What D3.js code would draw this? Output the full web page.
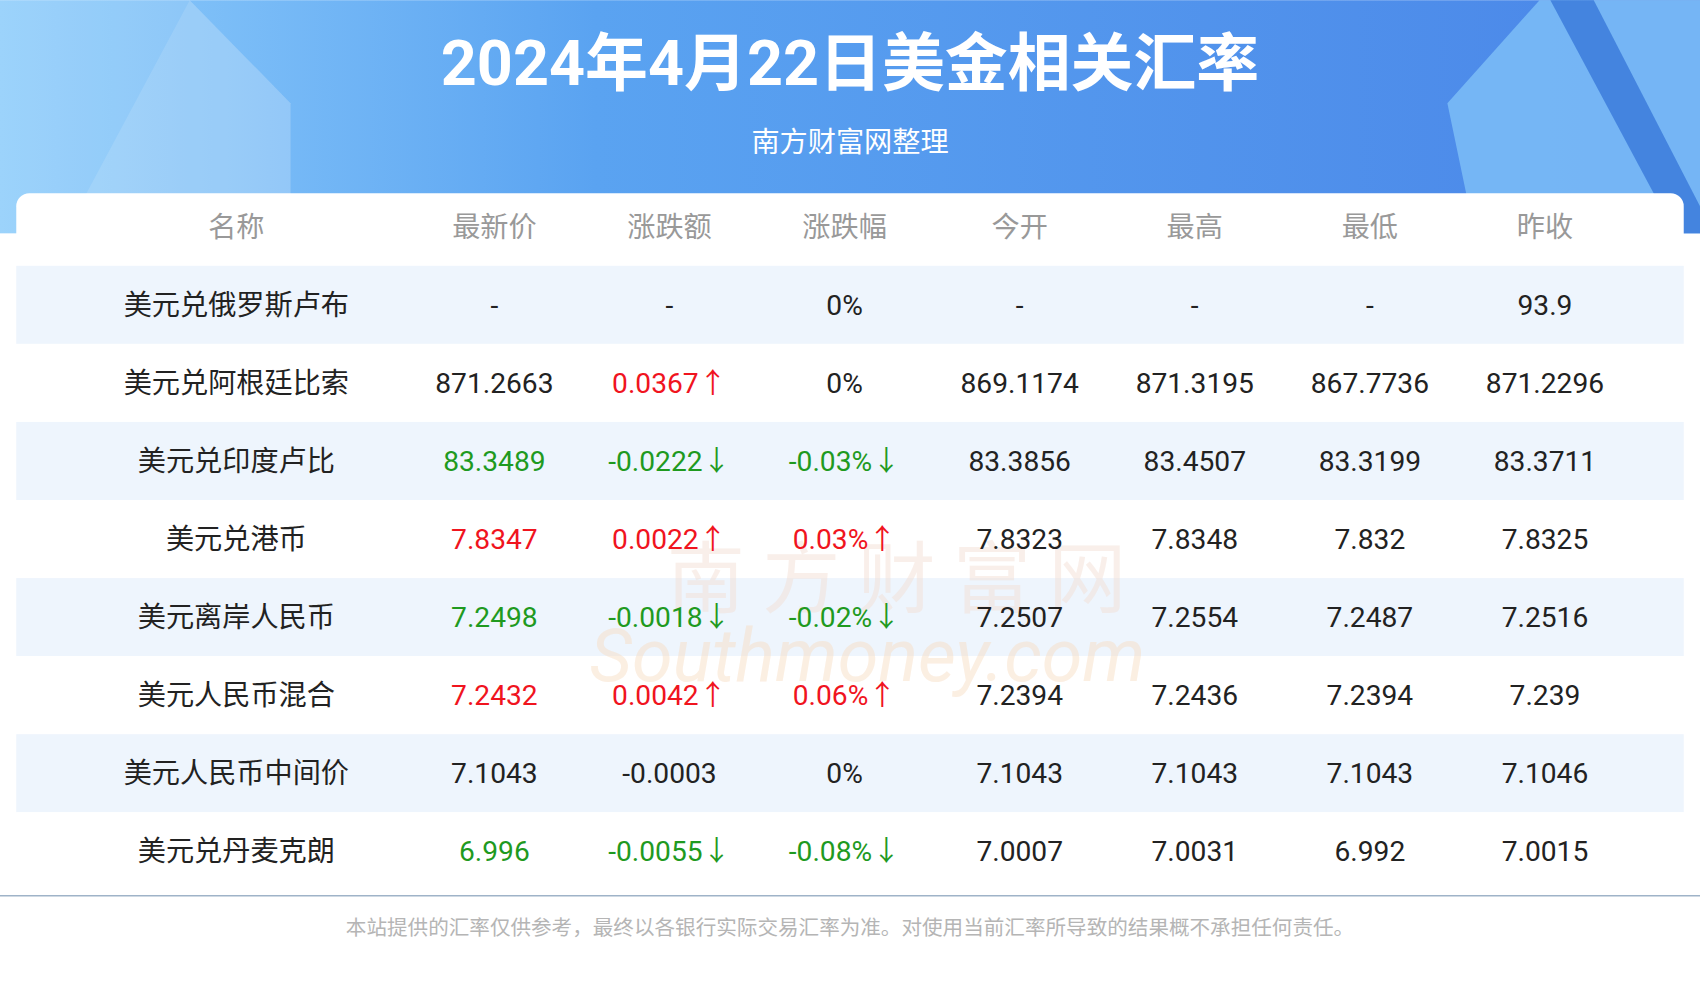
<!DOCTYPE html>
<html lang="zh">
<head>
<meta charset="UTF-8">
<script src="https://d3js.org/d3.v7.min.js"></script>
<style>
  body { margin: 0; background: #fff; }
  text { font-family: Roboto, "Noto Sans CJK SC", sans-serif; }
</style>
</head>
<body>
<div id="chart"></div>
<script>
// table data
var columns = ["名称", "最新价", "涨跌额", "涨跌幅", "今开", "最高", "最低", "昨收"];
var names = ["美元兑俄罗斯卢布", "美元兑阿根廷比索", "美元兑印度卢比", "美元兑港币",
             "美元离岸人民币", "美元人民币混合", "美元人民币中间价", "美元兑丹麦克朗"];
var latest = ["-", "871.2663", "83.3489", "7.8347", "7.2498", "7.2432", "7.1043", "6.996"];
var change = ["-", "0.0367↑", "-0.0222↓", "0.0022↑", "-0.0018↓", "0.0042↑", "-0.0003", "-0.0055↓"];
var changePct = ["0%", "0%", "-0.03%↓", "0.03%↑", "-0.02%↓", "0.06%↑", "0%", "-0.08%↓"];
var open = ["-", "869.1174", "83.3856", "7.8323", "7.2507", "7.2394", "7.1043", "7.0007"];
var high = ["-", "871.3195", "83.4507", "7.8348", "7.2554", "7.2436", "7.1043", "7.0031"];
var low = ["-", "867.7736", "83.3199", "7.832", "7.2487", "7.2394", "7.1043", "6.992"];
var prevClose = ["93.9", "871.2296", "83.3711", "7.8325", "7.2516", "7.239", "7.1046", "7.0015"];
// colour per cell: 1 up (red), -1 down (green), 0 neutral
var latestTrend = [0, 0, -1, 1, -1, 1, 0, -1];
var changeTrend = [0, 1, -1, 1, -1, 1, 0, -1];
var pctTrend = [0, 0, -1, 1, -1, 1, 0, -1];

var W = 1568, H = 922;
var svg = d3.select("#chart").append("svg").attr("width", 1700).attr("height", 1000)
  .attr("viewBox", "0 0 " + W + " " + H);

var defs = svg.append("defs");
var g1 = defs.append("linearGradient").attr("id", "hdr").attr("x1", 0).attr("x2", 1);
g1.append("stop").attr("offset", "0").attr("stop-color", "#8fcdfb");
g1.append("stop").attr("offset", "0.35").attr("stop-color", "#5aa3f1");
g1.append("stop").attr("offset", "1").attr("stop-color", "#4a86e8");

// header
svg.append("rect").attr("x", 0).attr("y", 0).attr("width", W).attr("height", 215).attr("fill", "url(#hdr)");
svg.append("path").attr("d", "M0,0 L175,0 L268,95 L268,215 L0,215 Z").attr("fill", "#ffffff").attr("opacity", 0.12);
svg.append("path").attr("d", "M60,215 L175,0 L268,95 L268,215 Z").attr("fill", "#ffffff").attr("opacity", 0.12);
svg.append("path").attr("d", "M1568,0 L1420,0 L1335,95 L1360,215 L1568,215 Z").attr("fill", "#7fc0f7").attr("opacity", 0.8);
svg.append("path").attr("d", "M1430,0 L1470,0 L1568,190 L1568,215 L1545,215 Z").attr("fill", "#2f6fd6").attr("opacity", 0.7);

svg.append("text").attr("x", 784).attr("y", 78).attr("text-anchor", "middle")
  .attr("fill", "#fff").attr("font-size", 58).attr("font-weight", "bold").text("2024年4月22日美金相关汇率");
svg.append("text").attr("x", 784).attr("y", 140).attr("text-anchor", "middle")
  .attr("fill", "#fff").attr("font-size", 26).text("南方财富网整理");

// card
svg.append("rect").attr("x", 15).attr("y", 178).attr("width", 1538).attr("height", 740)
  .attr("rx", 12).attr("fill", "#fff");
svg.append("rect").attr("x", 0).attr("y", 230).attr("width", W).attr("height", H - 230).attr("fill", "#fff");

// name column sits at 218, value columns spread evenly from 456 to 1425
var xv = d3.scalePoint().domain(columns.slice(1)).range([456, 1425]);
var x = function (c) { return c === columns[0] ? 218 : xv(c); };
var y = d3.scaleBand().domain(d3.range(names.length)).range([245, 821]);

svg.selectAll("text.hd").data(columns).enter().append("text")
  .attr("x", function (d) { return x(d); }).attr("y", 209).attr("dy", "0.35em")
  .attr("text-anchor", "middle").attr("fill", "#999").attr("font-size", 26).text(function (d) { return d; });

svg.selectAll("rect.band").data(names).enter().append("rect")
  .attr("x", 15).attr("width", 1538)
  .attr("y", function (d, i) { return y(i); }).attr("height", y.bandwidth())
  .attr("fill", function (d, i) { return i % 2 === 0 ? "#eef5fd" : "#fff"; });

// watermark
svg.append("text").attr("x", 835).attr("y", 560).attr("text-anchor", "middle")
  .attr("fill", "#f3ddd2").attr("opacity", 0.45).attr("font-size", 72).attr("letter-spacing", 16).text("南方财富网");
svg.append("text").attr("x", 800).attr("y", 628).attr("text-anchor", "middle")
  .attr("fill", "#f8dcc0").attr("opacity", 0.45).attr("font-size", 68).attr("font-style", "italic")
  .attr("font-family", "Liberation Serif").text("Southmoney.com");

var cols = [names, latest, change, changePct, open, high, low, prevClose];
var trends = [null, latestTrend, changeTrend, pctTrend, null, null, null, null];
var red = "#f0141e", green = "#1f9a1f", dark = "#222";

cols.forEach(function (arr, c) {
  svg.selectAll(null).data(arr).enter().append("text")
    .attr("x", x(columns[c]))
    .attr("y", function (d, i) { return y(i) + y.bandwidth() / 2; }).attr("dy", "0.35em")
    .attr("text-anchor", "middle").attr("font-size", 26)
    .attr("fill", function (d, i) {
      var t = trends[c] ? trends[c][i] : 0;
      return t > 0 ? red : t < 0 ? green : dark;
    })
    .text(function (d) { return d; });
});

svg.append("line").attr("x1", 0).attr("x2", W).attr("y1", 826).attr("y2", 826)
  .attr("stroke", "#9fb3c8").attr("stroke-width", 1.5);
svg.append("text").attr("x", 784).attr("y", 856).attr("dy", "0.35em").attr("text-anchor", "middle")
  .attr("fill", "#b5b5b5").attr("font-size", 19)
  .text("本站提供的汇率仅供参考，最终以各银行实际交易汇率为准。对使用当前汇率所导致的结果概不承担任何责任。");
</script>
</body>
</html>
